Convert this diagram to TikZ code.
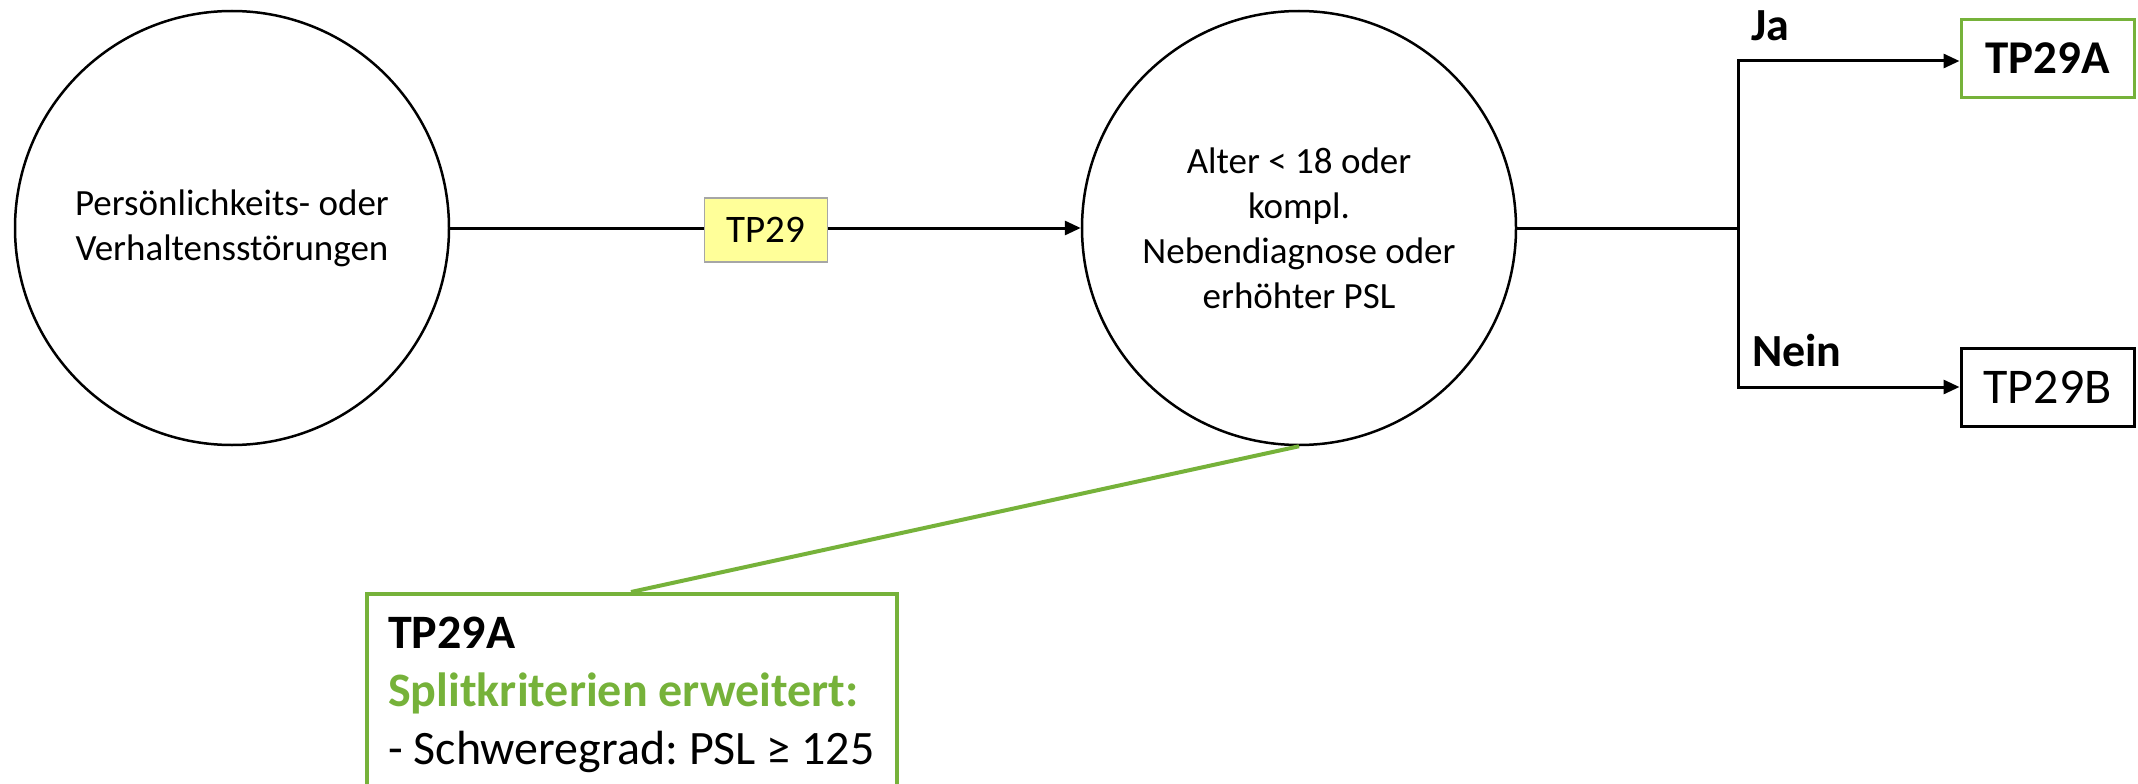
\documentclass[tikz,border=0pt]{standalone}
\usepackage{fontspec}
\setmainfont{Carlito}
\frenchspacing
\usetikzlibrary{arrows.meta}
\definecolor{grn}{RGB}{118,178,58}
\definecolor{ylw}{RGB}{255,255,153}
\definecolor{gry}{RGB}{166,166,166}
\tikzset{
  circ/.style={circle,draw=black,line width=2.5pt,minimum size=434pt,inner sep=0pt,align=center,font=\fontsize{37}{45}\selectfont},
  conn/.style={line width=3pt,draw=black},
  arr/.style={conn,-{Triangle[length=16pt,width=14pt]}},
  lbl/.style={anchor=base west,inner sep=0pt,font=\fontsize{46}{56}\selectfont\bfseries},
  outbox/.style={draw,line width=3pt,minimum width=173pt,minimum height=78pt,inner sep=0pt},
  gtext/.style={anchor=base west,inner sep=0pt,font=\fontsize{48}{58}\selectfont}
}
\begin{document}
\begin{tikzpicture}[x=1pt,y=-1pt]
\useasboundingbox (0,0) rectangle (2138,784);
\clip (0,0) rectangle (2138,784);
\node[circ] (c1) at (232,228) {Persönlichkeits- oder\\Verhaltensstörungen};
\node[circ] (c2) at (1299,228) {Alter < 18 oder\\kompl.\\Nebendiagnose oder\\erhöhter PSL};
\node[draw=gry,fill=ylw,line width=1.5pt,minimum width=123pt,minimum height=64pt,inner sep=0pt,font=\fontsize{39}{46}\selectfont] (tp) at (766,230) {TP29};
\draw[conn] (c1.east) -- (tp.west |- c1.east);
\draw[arr] (tp.east |- c2.west) -- (c2.west);
\coordinate (j) at (1738,228);
\node[outbox,draw=grn,font=\fontsize{47}{56}\selectfont\bfseries] (a) at (2047.5,58.5) {TP29A};
\node[outbox,font=\fontsize{50}{58}\selectfont] (b) at (2047.5,387) {TP29B};
\draw[conn] (c2.east) -- (j);
\draw[arr] (j) |- ([yshift=-2.5pt]a.west);
\draw[arr] (j) |- (b.west);
\node[lbl] (ja) at (1751,41) {Ja};
\node[lbl] (nein) at (1752,366) {Nein};
\node[draw=grn,line width=4pt,anchor=north west,minimum width=530pt,minimum height=240pt,inner sep=0pt] (g) at (365,592) {};
\coordinate (gt) at (631,592);
\draw[grn,line width=4pt] (c2.south) -- (gt);
\node[gtext,font=\fontsize{48}{58}\selectfont\bfseries] (g1) at (388,648) {TP29A};
\node[gtext,font=\fontsize{48}{58}\selectfont\bfseries,text=grn] (g2) at (388,706) {Splitkriterien erweitert:};
\node[gtext] (g3) at (388,764) {- Schweregrad: PSL ≥ 125};
\end{tikzpicture}
\end{document}
